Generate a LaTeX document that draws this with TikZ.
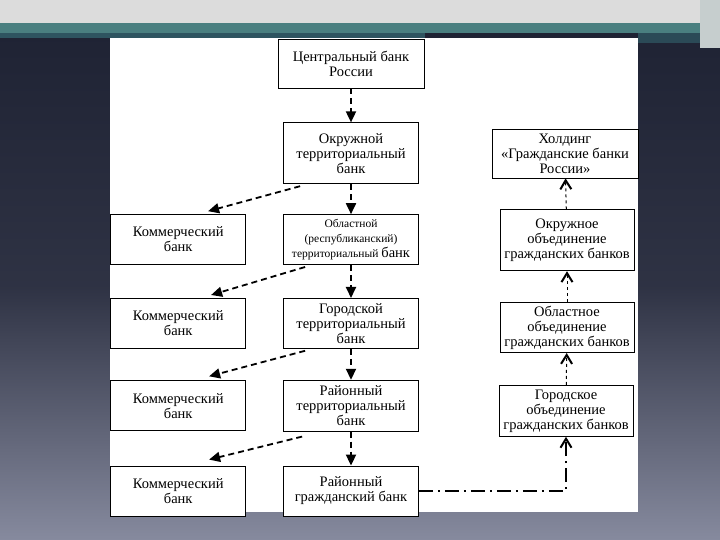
\documentclass[tikz,border=0pt]{standalone}
\usepackage{fontspec}
\setmainfont{Liberation Serif}
\usetikzlibrary{arrows.meta,positioning}
\definecolor{slidenavy}{HTML}{1F2334}
\definecolor{slideslate}{HTML}{868A9E}
\definecolor{bandgray}{HTML}{DCDCDC}
\definecolor{bandteal}{HTML}{4A7F80}
\definecolor{darkteal}{HTML}{2E5460}
\newcommand{\smallru}{\fontsize{11.5}{13.5}\selectfont}

\begin{document}
\begin{tikzpicture}[
  x=1pt,
  y=1pt,
  font=\fontsize{14.5}{15}\selectfont,
  bank/.style={draw, line width=0.8pt, fill=white, align=center, inner sep=1pt, minimum width=135pt, minimum height=50pt},
  down/.style={-{Triangle[width=10pt,length=11pt]}, line width=1.8pt, dash pattern=on 6pt off 4pt},
  up/.style={-{Straight Barb[width=11pt,length=9pt,line width=2pt]}, line width=1pt, dash pattern=on 3pt off 3pt},
  chain/.style={line width=1.8pt, dash pattern=on 14pt off 5pt on 2pt off 5pt}
]

\useasboundingbox (0,0) rectangle (720,540);
\shade[top color=slidenavy, bottom color=slideslate, middle color=slidenavy!85!slideslate] (0,0) rectangle (720,507);
\fill[bandgray] (0,517) rectangle (720,540);
\fill[bandteal] (0,507) rectangle (720,517);
\fill[darkteal] (0,502) rectangle (425,507);
\fill[darkteal!80!slidenavy] (638,497) rectangle (700,507);
\fill[bandgray!85!bandteal] (700,492) rectangle (720,540);
\fill[white] (110,28) rectangle (638,502);

\node[bank, minimum width=146pt, minimum height=49pt] (central) at (351,476.5) {Центральный банк\\России};
\node[bank, minimum height=61pt, below=34pt of central] (okrt) {Окружной\\территориальный\\банк};
\node[bank, below=30pt of okrt] (oblt) {\smallru Областной\\\smallru (республиканский)\\\smallru территориальный {\fontsize{14.5}{15}\selectfont банк}};
\node[bank, below=33pt of oblt] (gort) {Городской\\территориальный\\банк};
\node[bank, minimum height=51pt, below=31pt of gort] (rait) {Районный\\территориальный\\банк};
\node[bank, below=34pt of rait] (rgb) {Районный\\гражданский банк};

\node[bank, left=37pt of oblt] (comm1) {Коммерческий\\банк};
\node[bank, left=37pt of gort] (comm2) {Коммерческий\\банк};
\node[bank, left=37pt of rait] (comm3) {Коммерческий\\банк};
\node[bank, left=37pt of rgb] (comm4) {Коммерческий\\банк};

\node[bank, minimum width=146pt, minimum height=49pt] (holding) at (565,386.5) {Холдинг\\«Гражданские банки\\России»};
\node[bank, minimum width=134pt, minimum height=61pt, below=31pt of holding, xshift=2pt] (okrob) {Окружное\\объединение\\гражданских банков};
\node[bank, minimum width=134pt, below=31pt of okrob] (oblob) {Областное\\объединение\\гражданских банков};
\node[bank, minimum width=134pt, minimum height=51pt, below=32pt of oblob, xshift=-1pt] (gorob) {Городское\\объединение\\гражданских банков};

\draw[down] (central) -- (okrt);
\draw[down] (okrt) -- (oblt);
\draw[down] (oblt) -- (gort);
\draw[down] (gort) -- (rait);
\draw[down] (rait) -- (rgb);

\draw[down] ([xshift=17pt,yshift=-2pt]okrt.south west) -- ([xshift=-38pt,yshift=3pt]comm1.north east);
\draw[down] ([xshift=22pt,yshift=-2pt]oblt.south west) -- ([xshift=-35pt,yshift=3pt]comm2.north east);
\draw[down] ([xshift=22pt,yshift=-2pt]gort.south west) -- ([xshift=-37pt,yshift=4pt]comm3.north east);
\draw[down] ([xshift=19pt,yshift=-5pt]rait.south west) -- ([xshift=-37pt,yshift=6pt]comm4.north east);

\draw[chain, -{Straight Barb[width=11pt,length=9pt,line width=2pt]}] (rgb.east) -| (gorob.south);
\draw[up] (gorob) -- (oblob);
\draw[up] (oblob) -- (okrob);
\draw[up] (okrob) -- (holding);

\end{tikzpicture}
\end{document}
